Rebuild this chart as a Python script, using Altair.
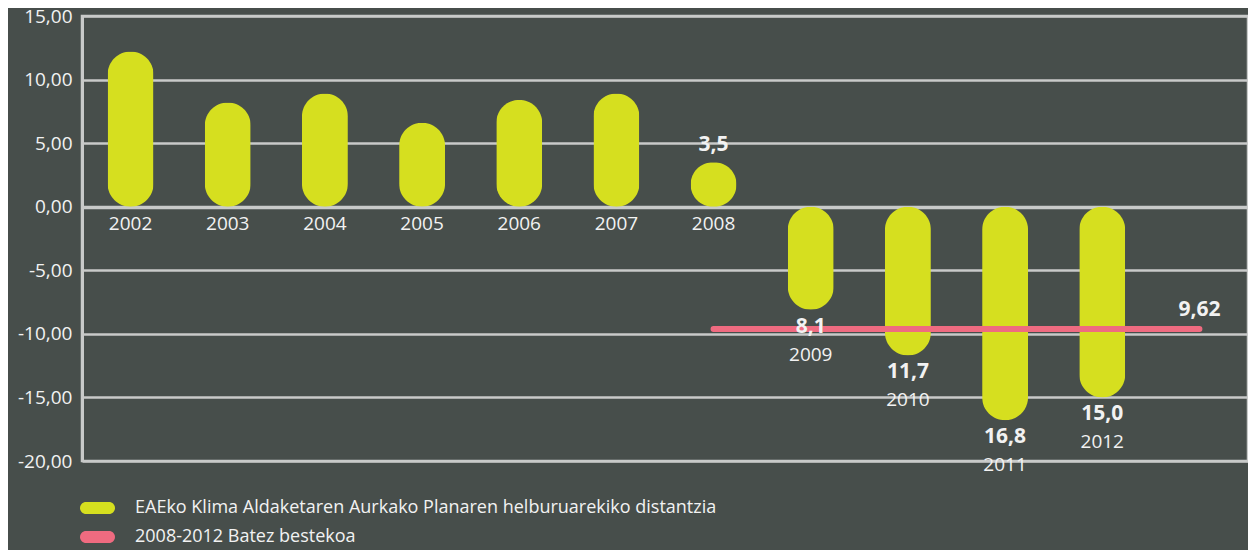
import altair as alt
import pandas as pd

# ---------------- data ----------------
years = ["2002", "2003", "2004", "2005", "2006", "2007", "2008",
         "2009", "2010", "2011", "2012"]
values = [12.2, 8.2, 8.9, 6.6, 8.4, 8.9, 3.5, -8.1, -11.7, -16.8, -15.0]
slots = years + ["2013"]          # one empty slot on the right
labelled_years = ["2008", "2009", "2010", "2011", "2012"]

avg_value = -9.62
avg_start = "2008"
avg_end = "2013"

series_names = [
    "EAEko Klima Aldaketaren Aurkako Planaren helburuarekiko distantzia",
    "2008-2012 Batez bestekoa",
]
y_ticks = [-20, -15, -10, -5, 0, 5, 10, 15]

# ---------------- style ----------------
bg = "#474e4b"
yellow = "#d6df1f"
pink = "#ef6b80"
grid = "#c8cac9"
txt = "#f2f2f2"
font = "Open Sans"

df = pd.DataFrame({"year": years, "value": values, "series": series_names[0]})
avg_df = pd.DataFrame({"start": [avg_start], "end": [avg_end], "value": [avg_value]})

xscale = alt.Scale(domain=slots, paddingInner=0.527, paddingOuter=0.2635)
yscale = alt.Scale(domain=[-20, 15], nice=False, zero=False)

pill = ("M -1.15 -0.6 L 1.15 -0.6 A 0.6 0.6 0 0 1 1.15 0.6 "
        "L -1.15 0.6 A 0.6 0.6 0 0 1 -1.15 -0.6 Z")

base = alt.Chart(df)

bars = base.mark_bar(cornerRadius=23).encode(
    x=alt.X("year:N", scale=xscale, axis=None),
    y=alt.Y(
        "value:Q",
        scale=yscale,
        axis=alt.Axis(
            values=y_ticks,
            title=None,
            labelExpr="(datum.value < 0 ? '-' : '') + replace(format(abs(datum.value), '.2f'), '.', ',')",
            labelFont=font,
            labelFontSize=19,
            labelColor=txt,
            labelPadding=10,
            ticks=False,
            grid=True,
            gridColor=grid,
            gridWidth={"condition": {"test": "datum.value === 0", "value": 3.5}, "value": 2.5},
            gridOpacity=1,
            domain=True,
            domainColor=grid,
            domainWidth=3,
        ),
    ),
    color=alt.Color(
        "series:N",
        scale=alt.Scale(domain=series_names, range=[yellow, pink]),
        legend=alt.Legend(
            title=None,
            orient="none",
            legendX=5.5,
            legendY=482,
            symbolType=pill,
            symbolSize=400,
            symbolStrokeWidth=0,
            symbolOpacity=1,
            labelFont=font,
            labelFontSize=18,
            labelColor=txt,
            labelOffset=27.5,
            rowPadding=10,
            padding=0,
            labelLimit=0,
        ),
    ),
)

rule = alt.Chart(avg_df).mark_rule(color=pink, strokeWidth=6, strokeCap="round").encode(
    x=alt.X("start:N", scale=xscale, axis=None),
    x2="end:N",
    y=alt.Y("value:Q", scale=yscale),
)

avg_label = alt.Chart(avg_df).transform_calculate(
    lab="replace(format(abs(datum.value), '.2f'), '.', ',')"
).mark_text(font=font, fontSize=21, fontWeight="bold", color=txt, baseline="middle", dy=-19).encode(
    x=alt.X("end:N", scale=xscale, axis=None),
    y=alt.Y("value:Q", scale=yscale),
    text="lab:N",
)

value_text = base.transform_filter(
    alt.FieldOneOfPredicate(field="year", oneOf=labelled_years)
).transform_calculate(
    lab="replace(format(abs(datum.value), '.1f'), '.', ',')"
)

val_pos = value_text.transform_filter("datum.value >= 0").mark_text(
    font=font, fontSize=21, fontWeight="bold", color=txt, baseline="middle", dy=-17
).encode(x=alt.X("year:N", scale=xscale), y=alt.Y("value:Q", scale=yscale), text="lab:N")

val_neg = value_text.transform_filter("datum.value < 0").mark_text(
    font=font, fontSize=21, fontWeight="bold", color=txt, baseline="middle", dy=17
).encode(x=alt.X("year:N", scale=xscale), y=alt.Y("value:Q", scale=yscale), text="lab:N")

year_pos = base.transform_filter("datum.value >= 0").mark_text(
    font=font, fontSize=19, color=txt, baseline="middle", dy=17
).encode(x=alt.X("year:N", scale=xscale), y=alt.datum(0, scale=yscale), text="year:N")

year_neg = base.transform_filter("datum.value < 0").mark_text(
    font=font, fontSize=19, color=txt, baseline="middle", dy=45
).encode(x=alt.X("year:N", scale=xscale), y=alt.Y("value:Q", scale=yscale), text="year:N")

chart = alt.layer(
    bars, rule, avg_label, val_pos, val_neg, year_pos, year_neg
).properties(
    width=1166,
    height=445,
    autosize=alt.AutoSizeParams(type="none"),
    padding={"left": 74, "top": 8, "right": 0, "bottom": 89},
    background=bg,
).configure_view(
    stroke=grid,
    strokeWidth=2.5,
)

chart.save("out.html", embed_options={"renderer": "svg", "actions": False})
